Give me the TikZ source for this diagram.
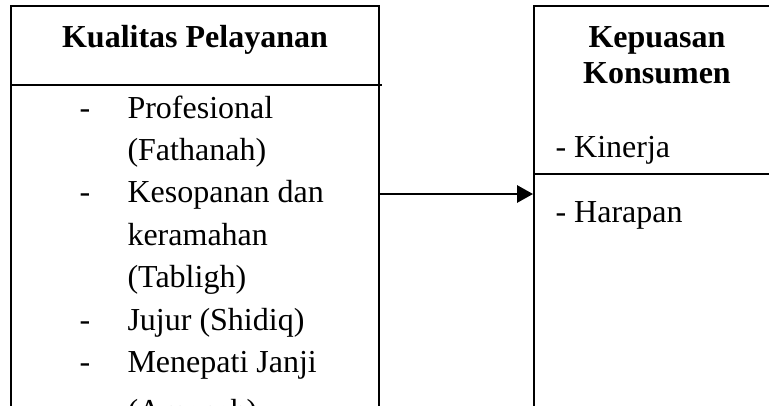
\documentclass[tikz,border=0pt]{standalone}
\usepackage{fontspec}
\setmainfont{Liberation Serif}
\usetikzlibrary{positioning,arrows.meta}

\begin{document}
\begin{tikzpicture}
 	[x=0.375pt, y=-0.375pt, font=\fontsize{12}{14}\selectfont,
 	 box/.style={draw=black,line width=0.75pt,inner sep=0pt,anchor=north west,minimum height=165pt},
 	 heading/.style={font=\fontsize{12}{14}\selectfont\bfseries,anchor=base},
 	 entry/.style={anchor=base west,inner sep=0pt}]
 \useasboundingbox (0,0) rectangle (769,405);
 \clip (0,0) rectangle (769,405);
 \node (kp) [box,minimum width=138pt] at (10,5) {};
 \node (ks) [box,minimum width=110pt] at (533,5) {};
 \draw[line width=0.75pt] (kp.west |- 0,85) -- (382,85);
 \draw[line width=0.75pt] (ks.west |- 0,174) -- (769,174);
 \node (kptitle) [heading] at (195,47) {Kualitas Pelayanan};
 \foreach \y/\d/\t in {118/-/Profesional, 160//(Fathanah), 202/-/Kesopanan dan, 245//keramahan, 287//(Tabligh), 330/-/Jujur (Shidiq), 372/-/Menepati Janji, 421//(Amanah)}
 {
 \node [entry] at (79,\y) {\d};
 \node [entry] at (127,\y) {\t};
 }
 \node (kstitle) [heading] at (657,47) {Kepuasan};
 \node (kstitle2) [heading] at (657,83) {Konsumen};
 \node (kinerja) [entry] at (555,157) {- Kinerja};
 \node (harapan) [entry] at (555,222) {- Harapan};
 \coordinate (arr) at (0,194);
 \draw[line width=0.75pt,-{Triangle[length=6pt,width=6.5pt]}] (kp.east |- arr) -- (ks.west |- arr);
 \end{tikzpicture}
\end{document}
